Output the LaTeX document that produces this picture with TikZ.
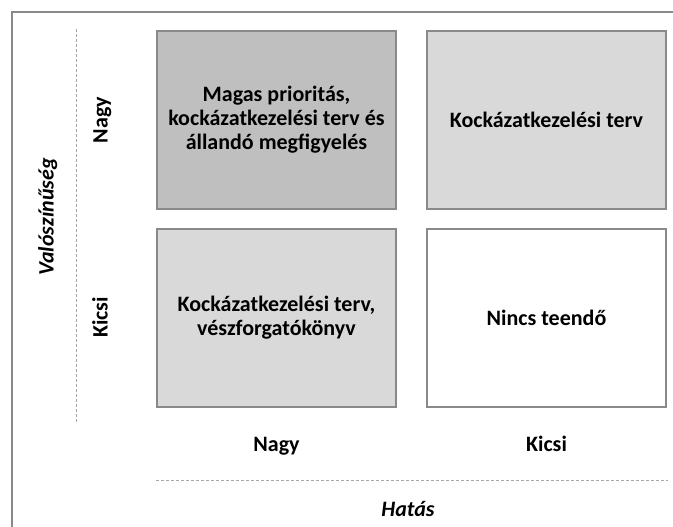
\documentclass[tikz,border=0pt]{standalone}
\usepackage{fontspec}
\setmainfont{Carlito}
\definecolor{framegray}{HTML}{898989}
\definecolor{dashgray}{HTML}{A6A6A6}
\definecolor{darkcell}{HTML}{BFBFBF}
\definecolor{lightcell}{HTML}{D9D9D9}
\begin{document}
\begin{tikzpicture}[x=1pt,y=-1pt,font=\bfseries\fontsize{22}{24}\selectfont,
    cell/.style={draw=framegray,line width=2pt,minimum width=239pt,minimum height=178pt,align=center,inner sep=0pt},
    lbl/.style={text height=11pt,text depth=4pt,inner sep=0pt},
    axistitle/.style={lbl,font=\bfseries\itshape\fontsize{22}{24}\selectfont},
    axisline/.style={dashgray,line width=1pt,dash pattern=on 3pt off 2pt}]
        \def\colA{276.5}
        \def\colB{546.5}
        \def\rowA{120}
        \def\rowB{317.5}
        \useasboundingbox (0,0) rectangle (673,527);
        \draw[framegray,line width=1.5pt](12,527)--(12,12)--(673,12);

        \node[cell,fill=darkcell] (hh) at (\colA,\rowA) {Magas prioritás,\\kockázatkezelési terv és\\állandó megfigyelés};
        \node[cell,fill=lightcell] (hl) at (\colB,\rowA) {Kockázatkezelési terv};
        \node[cell,fill=lightcell] (lh) at (\colA,\rowB) {Kockázatkezelési terv,\\vészforgatókönyv};
        \node[cell,fill=white] (ll) at (\colB,\rowB) {Nincs teendő};

        \node[lbl,rotate=90] (pnagy) at (104,\rowA) {Nagy};
        \node[lbl,rotate=90] (pkicsi) at (104,\rowB) {Kicsi};
        \node[lbl] (inagy) at (\colA,448) {Nagy};
        \node[lbl] (ikicsi) at (\colB,448) {Kicsi};

        \coordinate (ptop) at (76.5,29);
        \coordinate (pbot) at (76.5,424);
        \draw[axisline] (ptop)--(pbot);
        \node[axistitle,rotate=90] (prob) at (50,217) {Valószínűség};

        \coordinate (ileft) at (156,480);
        \coordinate (iright) at (668,480);
        \draw[axisline] (ileft)--(iright);
        \node[axistitle] (impact) at (408,513) {Hatás};
    \end{tikzpicture}
\end{document}
